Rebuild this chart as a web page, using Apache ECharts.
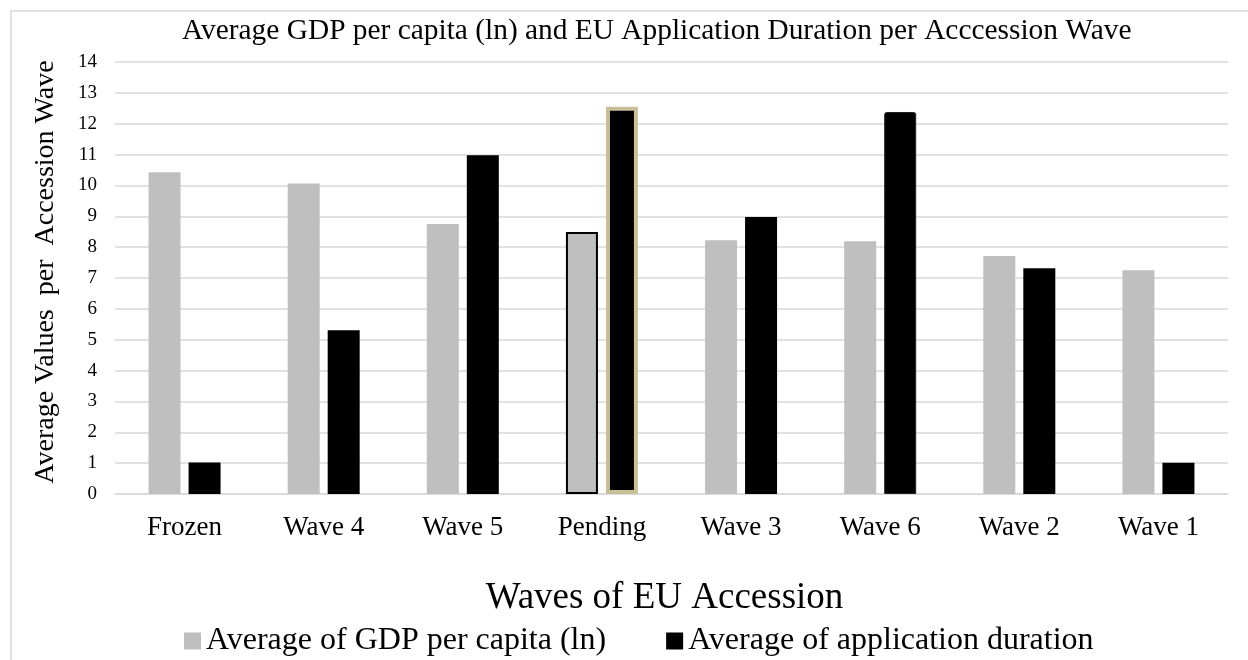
<!DOCTYPE html>
<html>
<head>
<meta charset="utf-8">
<title>GDP per capita and EU application duration</title>
<script src="https://cdn.jsdelivr.net/npm/echarts@6/dist/echarts.min.js"></script>
<style>
  html, body { margin: 0; padding: 0; background: #fff; }
  #main { width: 1248px; height: 660px; }
</style>
</head>
<body>
<div id="main"></div>
<script>
const waves = ["Frozen", "Wave 4", "Wave 5", "Pending", "Wave 3", "Wave 6", "Wave 2", "Wave 1"];
const gdpPerCapita = [10.43, 10.06, 8.75, 8.49, 8.22, 8.19, 7.71, 7.25];
const applicationDuration = [1.02, 5.31, 10.98, 12.55, 8.98, 12.38, 7.32, 1.01];
const yTicks = [0, 14, 1]; // min, max, step

const font = "Liberation Serif";
const gridColor = "#d9d9d9";

// the Pending bars and Wave 6 duration bar carry an outline in the original
const gdpData = gdpPerCapita.map((v, i) => {
  if (waves[i] === "Pending") {
    return { value: v, itemStyle: { borderColor: "#000", borderWidth: 2 } };
  }
  return v;
});
const durationData = applicationDuration.map((v, i) => {
  if (waves[i] === "Pending") {
    return { value: v, itemStyle: { borderColor: "#c8bf98", borderWidth: 4 } };
  }
  if (waves[i] === "Wave 6") {
    return { value: v, itemStyle: { borderColor: "#222", borderWidth: 1, borderRadius: [2, 2, 0, 0] } };
  }
  return v;
});

const chart = echarts.init(document.getElementById("main"));
let option = {
  animation: false,
  textStyle: { fontFamily: font, color: "#000" },
  graphic: [
    {
      type: "rect",
      shape: { x: 11, y: 11, width: 1400, height: 800 },
      style: { fill: "none", stroke: gridColor, lineWidth: 1.5 },
      silent: true
    }
  ],
  title: {
    text: "Average GDP per capita (ln) and EU Application Duration per Acccession Wave",
    left: 182,
    top: 17,
    padding: 0,
    textStyle: { fontFamily: font, fontWeight: "normal", fontSize: 29.4, color: "#000" }
  },
  legend: {
    data: ["Average of GDP per capita (ln)", "Average of application duration"],
    left: 184,
    top: 625,
    padding: 0,
    icon: "rect",
    itemWidth: 17,
    itemHeight: 17,
    itemGap: 60,
    textStyle: { fontFamily: font, fontSize: 32, color: "#000" }
  },
  grid: {
    left: 115,
    right: 20,
    top: 62,
    bottom: 166,
    containLabel: false,
    outerBoundsMode: "none"
  },
  xAxis: {
    type: "category",
    data: waves,
    name: "Waves of EU Accession",
    nameLocation: "middle",
    nameGap: 86,
    nameTextStyle: { fontFamily: font, fontSize: 37, color: "#000", padding: [0, 14, 0, 0] },
    axisLine: { lineStyle: { color: gridColor, width: 1.5 } },
    axisTick: { show: false },
    axisLabel: { fontFamily: font, fontSize: 27, color: "#000", margin: 20 }
  },
  yAxis: {
    type: "value",
    min: yTicks[0],
    max: yTicks[1],
    interval: yTicks[2],
    name: "Average Values  per  Accession Wave",
    nameLocation: "middle",
    nameGap: 55,
    nameTextStyle: { fontFamily: font, fontSize: 28, color: "#000", padding: [0, 0, 0, 12] },
    axisLine: { show: false },
    axisTick: { show: false },
    axisLabel: { fontFamily: font, fontSize: 19, color: "#000", margin: 18 },
    splitLine: { lineStyle: { color: gridColor, width: 1.5 } }
  },
  series: [
    {
      name: "Average of GDP per capita (ln)",
      type: "bar",
      barWidth: 32,
      barGap: "25%",
      itemStyle: { color: "#bfbfbf" },
      data: gdpData
    },
    {
      name: "Average of application duration",
      type: "bar",
      barWidth: 32,
      barGap: "25%",
      itemStyle: { color: "#000" },
      data: durationData
    }
  ]
};
chart.setOption(option);
</script>
</body>
</html>
